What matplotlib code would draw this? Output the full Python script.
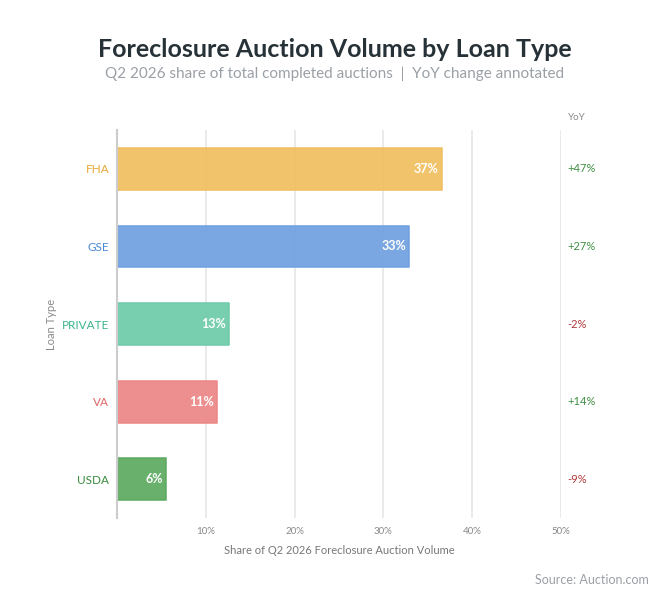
import matplotlib.pyplot as plt
from matplotlib.transforms import blended_transform_factory

# Data
loan_types = ['FHA', 'GSE', 'PRIVATE', 'VA', 'USDA']
share_pct = [36.6, 32.9, 12.6, 11.3, 5.5]
yoy_change = [47, 27, -2, 14, -9]
bar_colors = ['#F0BE5E', '#6FA0E0', '#6DCBA8', '#EC8686', '#5BAA5E']
label_colors = ['#E8A838', '#4A88D0', '#3BB58A', '#E06666', '#3A8A3E']
x_ticks = [10, 20, 30, 40, 50]

plt.rcParams['font.family'] = ['Lato', 'DejaVu Sans']

fig = plt.figure(figsize=(6.7, 6.09), dpi=100)
ax = fig.add_axes([0.1746, 0.149, 0.837 - 0.1746, 0.7865 - 0.149])

y_pos = list(range(len(loan_types)))
ax.barh(y_pos, share_pct, height=0.54, color=bar_colors, alpha=0.92,
        edgecolor=bar_colors, linewidth=1.2, zorder=2)
for rect in ax.patches:
    rect.set_joinstyle('round')

# Value labels inside bars
for y, v in zip(y_pos, share_pct):
    ax.text(v - 0.35, y, f'{round(v)}%', ha='right', va='center',
            color='white', fontsize=9, fontweight='bold', zorder=3)

# YoY column to the right of the plot
trans = blended_transform_factory(ax.transAxes, ax.transData)
ax.text(1.015, -0.6, 'YoY', transform=trans, ha='left', va='bottom',
        fontsize=7, color='#888888')
for y, c in zip(y_pos, yoy_change):
    col = '#3E8E41' if c >= 0 else '#B03A3A'
    ax.text(1.015, y, f'{c:+d}%', transform=trans, ha='left', va='center',
            fontsize=8, color=col)

ax.set_xlim(0, 50)
ax.set_ylim(4.5, -0.5)
ax.set_yticks(y_pos)
ax.set_yticklabels(loan_types, fontsize=8.5)
for lbl, col in zip(ax.get_yticklabels(), label_colors):
    lbl.set_color(col)
ax.set_xticks(x_ticks)
ax.set_xticklabels([f'{t}%' for t in x_ticks], fontsize=7, color='#888888')
ax.tick_params(axis='y', length=0, pad=5.5)
ax.tick_params(axis='x', length=0, pad=6)

ax.grid(axis='x', color='#E6E6E6', linewidth=1.2, zorder=1)
ax.set_axisbelow(True)
for s in ['top', 'right', 'bottom']:
    ax.spines[s].set_visible(False)
ax.spines['left'].set_color('#CCCCCC')
ax.spines['left'].set_linewidth(1.5)

ax.set_xlabel('Share of Q2 2026 Foreclosure Auction Volume', fontsize=8,
              color='#777777', labelpad=7)
ax.set_ylabel('Loan Type', fontsize=8, color='#888888', labelpad=4)

fig.text(0.5, 0.918, 'Foreclosure Auction Volume by Loan Type', ha='center',
         va='center', fontsize=18, fontweight='bold', color='#263238')
fig.text(0.5, 0.879, 'Q2 2026 share of total completed auctions  |  YoY change annotated',
         ha='center', va='center', fontsize=11, color='#9AA0A6')
fig.text(0.969, 0.047, 'Source: Auction.com', ha='right', va='center',
         fontsize=9, color='#9AA0A6')

fig.savefig('out.png', dpi=100, facecolor='white')
